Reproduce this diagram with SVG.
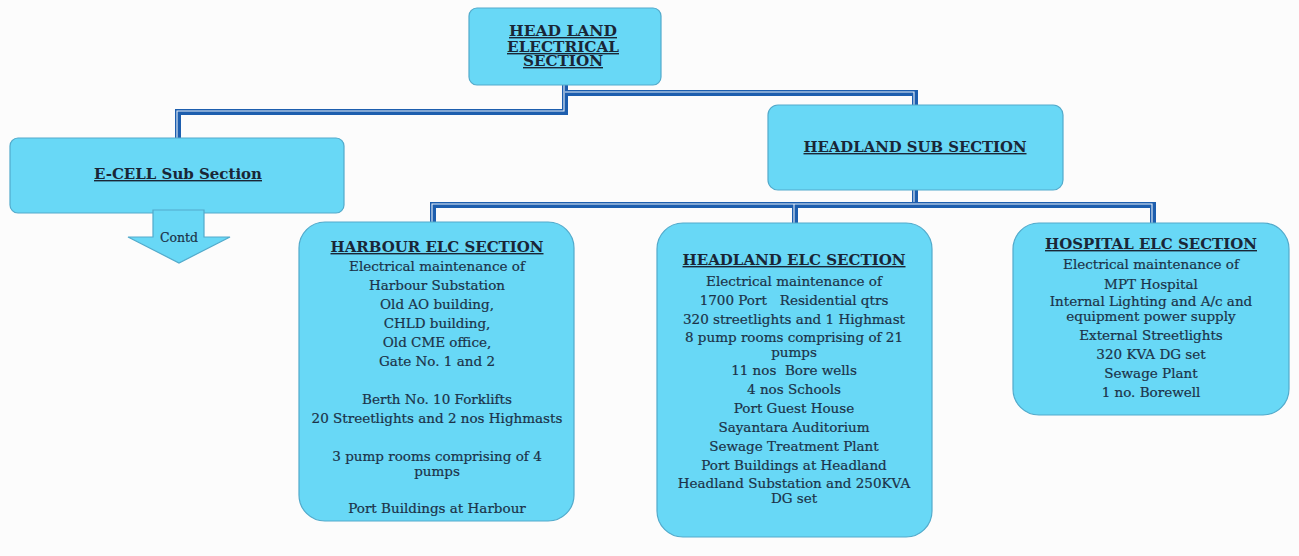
<svg xmlns="http://www.w3.org/2000/svg" width="1299" height="556" viewBox="0 0 1299 556">
<style>
.box{fill:#68d8f6;stroke:#52aacb;stroke-width:1.2}
.thick{fill:none;stroke:#1d5eae;stroke-width:6;stroke-linejoin:miter}
.gap{fill:none;stroke:#e8f0fa;stroke-width:1.1;stroke-linejoin:miter}
.t{font-family:"DejaVu Serif","Liberation Serif",serif;font-size:13.5px;fill:#1c3248;stroke:#1c3248;stroke-width:0.2;text-anchor:middle}
.h{font-family:"DejaVu Serif","Liberation Serif",serif;font-size:14px;font-weight:bold;fill:#1a2636;text-anchor:middle;text-decoration:underline}
</style>
<rect width="1299" height="556" fill="#fcfcfc"/>
<g id="connectors">
<path class="thick" d="M565,84 V112 H178 V139"/>
<path class="gap" d="M564,84 V111 H177 V139"/>
<path class="thick" d="M565,93 H915 V106"/>
<path class="gap" d="M565,92 H914 V106"/>
<path class="thick" d="M915,189 V205"/>
<path class="gap" d="M914,189 V204"/>
<path class="thick" d="M433,223 V205 H1153 V223"/>
<path class="gap" d="M432,223 V204 H1152 V223"/>
<path class="thick" d="M795,205 V225"/>
<path class="gap" d="M794,204 V225"/>
</g>
<g id="head-land">
<rect class="box" x="469" y="8" width="192" height="77" rx="8"/>
<text class="h" x="563" y="36" textLength="108" lengthAdjust="spacingAndGlyphs">HEAD LAND</text>
<text class="h" x="563" y="52" textLength="112" lengthAdjust="spacingAndGlyphs">ELECTRICAL</text>
<text class="h" x="563" y="66" textLength="80" lengthAdjust="spacingAndGlyphs">SECTION</text>
</g>
<g id="e-cell">
<rect class="box" x="10" y="138" width="334" height="75" rx="8"/>
<text class="h" x="178" y="179" textLength="168" lengthAdjust="spacingAndGlyphs">E-CELL  Sub Section</text>
</g>
<g id="contd">
<polygon class="box" points="153,210 204,210 204,237 230,237 179,263 128,237 153,237"/>
<text class="t" x="179" y="242" style="font-size:12.5px">Contd</text>
</g>
<g id="headland-sub">
<rect class="box" x="768" y="105" width="295" height="85" rx="10"/>
<text class="h" x="915" y="152" textLength="223" lengthAdjust="spacingAndGlyphs">HEADLAND SUB SECTION</text>
</g>
<g id="harbour">
<rect class="box" x="299" y="222" width="275" height="299" rx="26"/>
<text class="h" x="437" y="252" textLength="213" lengthAdjust="spacingAndGlyphs">HARBOUR ELC SECTION</text>
<text class="t" x="437" y="271">Electrical maintenance of</text>
<text class="t" x="437" y="290">Harbour Substation</text>
<text class="t" x="437" y="309">Old AO building,</text>
<text class="t" x="437" y="328">CHLD building,</text>
<text class="t" x="437" y="347">Old CME office,</text>
<text class="t" x="437" y="366">Gate No. 1 and 2</text>
<text class="t" x="437" y="404">Berth No. 10 Forklifts</text>
<text class="t" x="437" y="423">20 Streetlights and 2 nos Highmasts</text>
<text class="t" x="437" y="461">3 pump rooms comprising of 4</text>
<text class="t" x="437" y="476">pumps</text>
<text class="t" x="437" y="513">Port Buildings at Harbour</text>
</g>
<g id="headland-elc">
<rect class="box" x="657" y="223" width="275" height="314" rx="26"/>
<text class="h" x="794" y="265" textLength="223" lengthAdjust="spacingAndGlyphs">HEADLAND ELC SECTION</text>
<text class="t" x="794" y="286">Electrical maintenance of</text>
<text class="t" x="794" y="305" xml:space="preserve">1700 Port   Residential qtrs</text>
<text class="t" x="794" y="324">320 streetlights and 1 Highmast</text>
<text class="t" x="794" y="342">8 pump rooms comprising of 21</text>
<text class="t" x="794" y="357">pumps</text>
<text class="t" x="794" y="375" xml:space="preserve">11 nos  Bore wells</text>
<text class="t" x="794" y="394">4 nos Schools</text>
<text class="t" x="794" y="413">Port Guest House</text>
<text class="t" x="794" y="432">Sayantara Auditorium</text>
<text class="t" x="794" y="451">Sewage Treatment Plant</text>
<text class="t" x="794" y="470">Port Buildings at Headland</text>
<text class="t" x="794" y="488">Headland Substation and 250KVA</text>
<text class="t" x="794" y="503">DG set</text>
</g>
<g id="hospital">
<rect class="box" x="1013" y="223" width="276" height="192" rx="26"/>
<text class="h" x="1151" y="249" textLength="212" lengthAdjust="spacingAndGlyphs">HOSPITAL ELC SECTION</text>
<text class="t" x="1151" y="269">Electrical maintenance of</text>
<text class="t" x="1151" y="289">MPT Hospital</text>
<text class="t" x="1151" y="306">Internal Lighting and A/c and</text>
<text class="t" x="1151" y="321">equipment power supply</text>
<text class="t" x="1151" y="340">External Streetlights</text>
<text class="t" x="1151" y="359">320 KVA DG set</text>
<text class="t" x="1151" y="378">Sewage Plant</text>
<text class="t" x="1151" y="397">1 no. Borewell</text>
</g>
</svg>
